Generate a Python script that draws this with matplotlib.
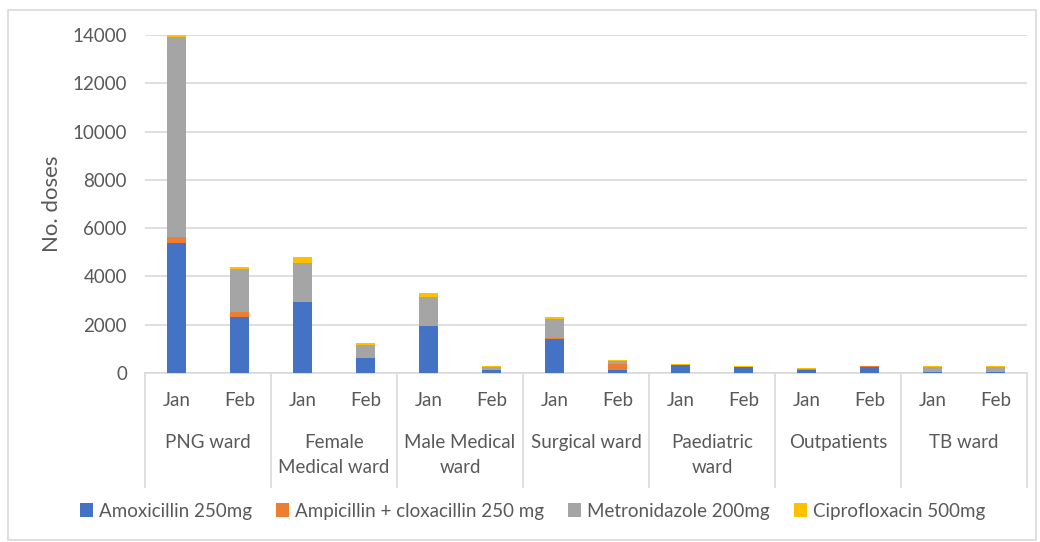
import matplotlib.pyplot as plt
import matplotlib.patches as mpatches
import numpy as np
from matplotlib.transforms import blended_transform_factory

plt.rcParams["font.family"] = ["Lato", "DejaVu Sans"]

wards = ["PNG ward", "Female\nMedical ward", "Male Medical\nward", "Surgical ward",
         "Paediatric\nward", "Outpatients", "TB ward"]
months = ["Jan", "Feb"]

amoxicillin = [5400, 2310, 2950, 630, 1950, 120, 1400, 140, 320, 240, 120, 260, 60, 60]
ampicillin = [220, 220, 0, 0, 0, 20, 60, 220, 0, 0, 40, 20, 0, 0]
metronidazole = [8290, 1790, 1620, 530, 1200, 100, 780, 140, 0, 0, 0, 0, 170, 170]
ciprofloxacin = [90, 60, 220, 80, 170, 60, 60, 50, 40, 40, 60, 0, 50, 50]

series = [
    ("Amoxicillin 250mg", amoxicillin, "#4472C4"),
    ("Ampicillin + cloxacillin 250 mg", ampicillin, "#ED7D31"),
    ("Metronidazole 200mg", metronidazole, "#A5A5A5"),
    ("Ciprofloxacin 500mg", ciprofloxacin, "#FFC000"),
]

text_col = "#595959"
line_col = "#D9D9D9"
fs = 13.5

fig = plt.figure(figsize=(10.4, 5.42), dpi=100)
ax = fig.add_axes([145 / 1040, 1 - 373 / 542, (1027 - 145) / 1040, (373 - 35) / 542])

x = np.arange(len(amoxicillin))
bottom = np.zeros(len(x))
for name, vals, col in series:
    ax.bar(x, vals, width=0.31, bottom=bottom, color=col, label=name, zorder=3)
    bottom += np.array(vals)

ax.set_xlim(-0.5, len(x) - 0.5)
ax.set_ylim(0, 14000)
ax.set_yticks(np.arange(0, 14001, 2000))
ax.grid(axis="y", color=line_col, linewidth=1.2, zorder=0)
for s in ["top", "right", "left"]:
    ax.spines[s].set_visible(False)
ax.spines["bottom"].set_color(line_col)
ax.spines["bottom"].set_linewidth(1.2)

ax.set_xticks(x)
ax.set_xticklabels(months * len(wards))
ax.tick_params(axis="both", length=0, labelsize=fs, labelcolor=text_col)
ax.tick_params(axis="x", pad=14)
ax.tick_params(axis="y", pad=13)

# ward separators and ward names under the month labels
trans = blended_transform_factory(ax.transData, ax.transAxes)
for i in range(len(wards) + 1):
    ax.plot([2 * i - 0.5] * 2, [0, -0.338], transform=trans, color=line_col,
            linewidth=1.2, clip_on=False)
for i, w in enumerate(wards):
    ax.text(2 * i + 0.5, -0.18, w, transform=trans, ha="center", va="top",
            fontsize=fs, color=text_col, linespacing=1.6)

ax.text(-0.105, 0.5, "No. doses", transform=ax.transAxes, rotation=90,
        ha="center", va="center", fontsize=16, color=text_col)

fig.legend(loc="center", bbox_to_anchor=(0.512, 1 - 511 / 542), ncol=4,
           frameon=False, fontsize=fs, handlelength=0.7, handleheight=0.7,
           handletextpad=0.3, columnspacing=1.3, labelcolor=text_col)

fig.patches.append(mpatches.Rectangle((8 / 1040, 2 / 542), 1028 / 1040, 530 / 542,
                                      transform=fig.transFigure, fill=False,
                                      edgecolor=line_col, linewidth=1.2))

fig.savefig("out.png", dpi=100)
